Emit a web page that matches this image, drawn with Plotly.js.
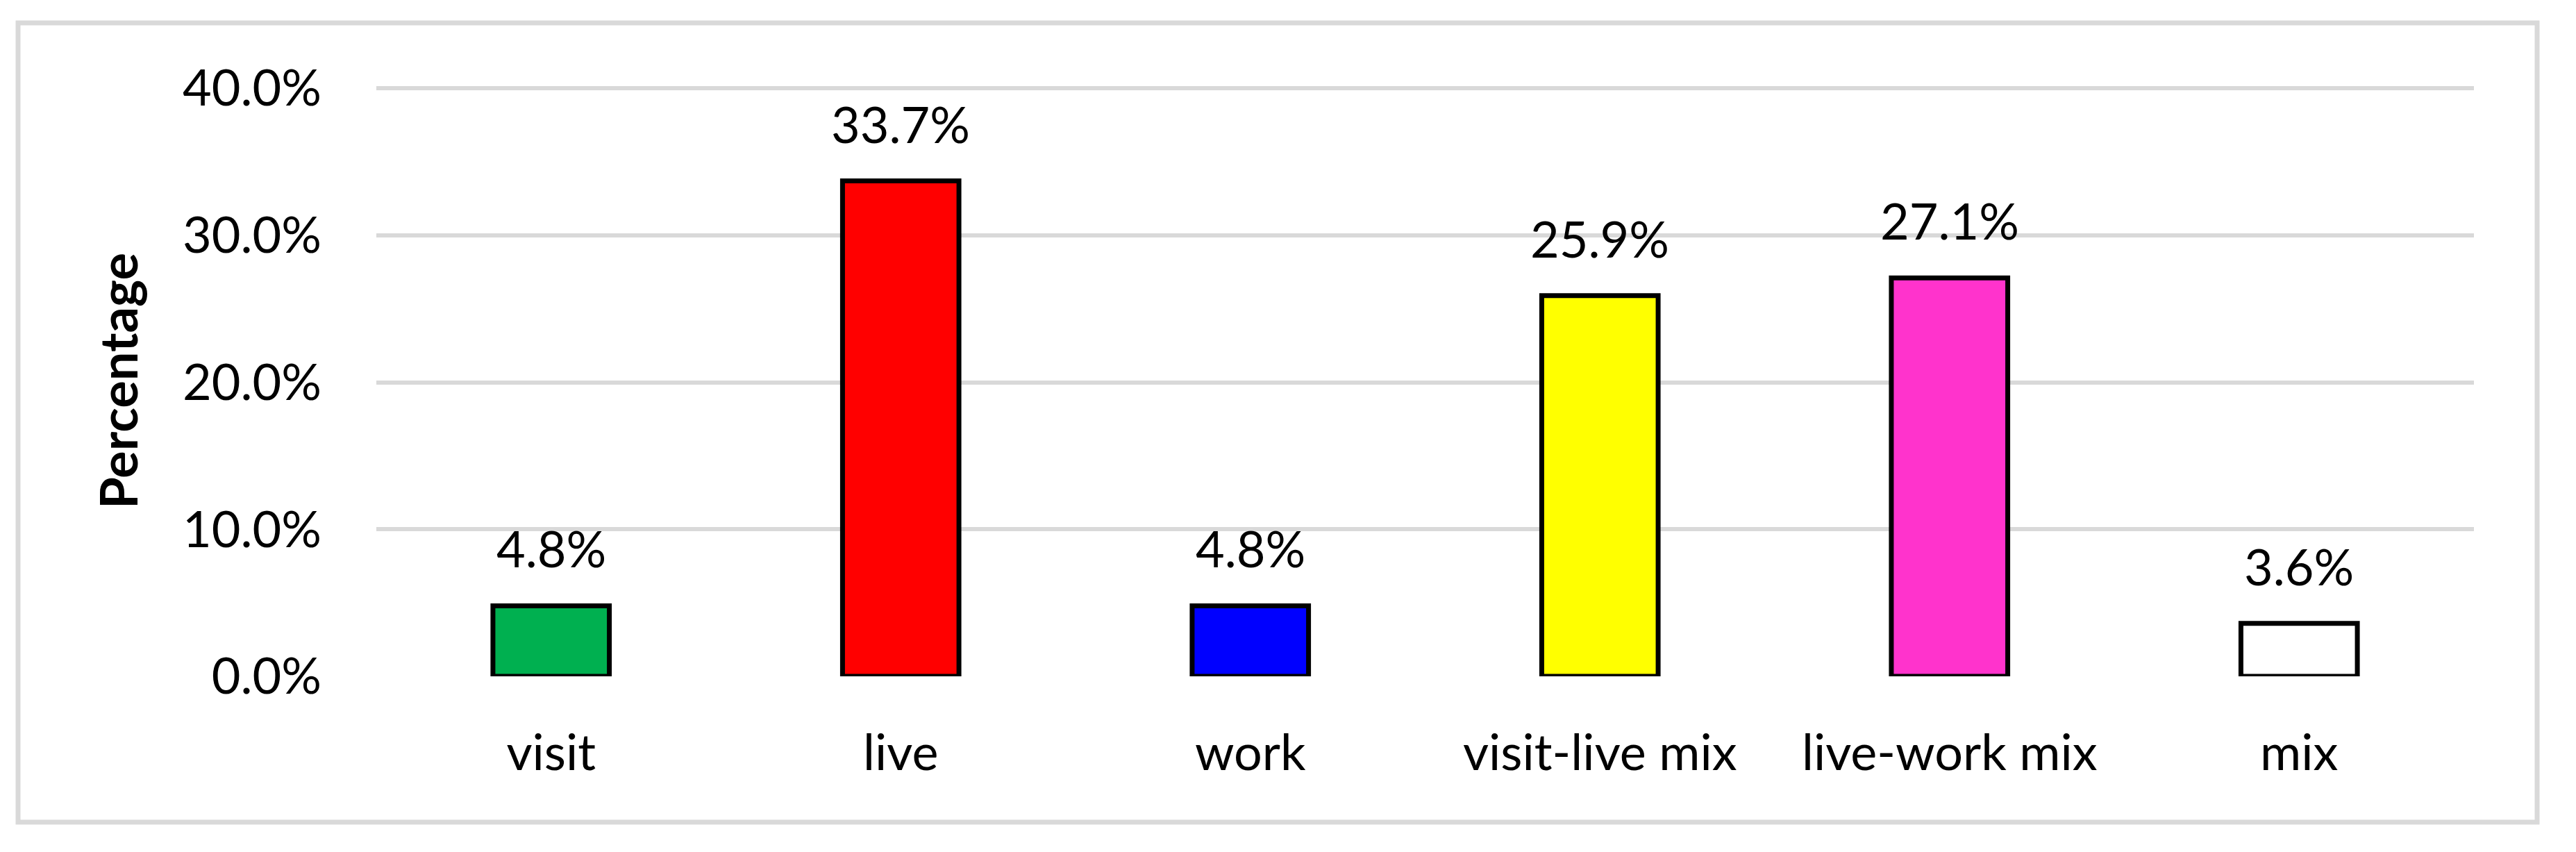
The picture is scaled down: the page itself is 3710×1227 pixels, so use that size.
<!DOCTYPE html>
<html>
<head>
<meta charset="utf-8">
<script src="https://cdn.plot.ly/plotly-3.0.1.min.js"></script>
<style>
  body { margin: 0; background: #fff; }
  #plot { width: 3710px; height: 1227px; }
</style>
</head>
<body>
<div id="plot"></div>
<script>
// categories and shares
const categories = ['visit', 'live', 'work', 'visit-live mix', 'live-work mix', 'mix'];
const shares = [0.048, 0.337, 0.048, 0.259, 0.271, 0.036];
const barColors = ['#00B050', '#FF0000', '#0000FF', '#FFFF00', '#FF33CC', '#FFFFFF'];
const yTicks = [0, 0.1, 0.2, 0.3, 0.4];

const W = 3710, H = 1227;
// a little headroom above 40% so its gridline gets drawn
const margin = { l: 542, r: 147, t: 123, b: 253 };
const plotW = W - margin.l - margin.r;
const plotH = H - margin.t - margin.b;

// pixel -> paper helpers for the outer frame
function px2x(p) { return (p - margin.l) / plotW; }
function py2y(p) { return (H - margin.b - p) / plotH; }

const trace = {
    type: 'bar',
    x: categories,
    y: shares,
    marker: { color: barColors, line: { color: '#000000', width: 7 } },
    hoverinfo: 'skip'
};

// value labels above bars
const labels = categories.map((c, i) => ({
    x: c, y: shares[i], xref: 'x', yref: 'y',
    text: (shares[i] * 100).toFixed(1) + '%',
    showarrow: false, yanchor: 'bottom', yshift: 38,
    font: { family: 'Lato', size: 72, color: '#000' }
}));

const layout = {
    width: W, height: H,
    margin: margin,
    paper_bgcolor: '#fff', plot_bgcolor: '#fff',
    font: { family: 'Lato', size: 72, color: '#000' },
    showlegend: false,
    bargap: 0.667,
    xaxis: {
        type: 'category',
        showgrid: false, showline: false, zeroline: false,
        ticks: '', ticklabelstandoff: 62,
        tickfont: { family: 'Lato', size: 72, color: '#000' }
    },
    yaxis: {
        range: [0, 0.402],
        tickvals: yTicks,
        tickformat: '.1%',
        showgrid: true, gridcolor: '#d9d9d9', gridwidth: 6,
        zeroline: false, showline: false, ticks: '',
        ticklabelstandoff: 78,
        tickfont: { family: 'Lato', size: 72, color: '#000' },
        title: { text: '<b>Percentage</b>', standoff: 40, font: { family: 'Lato', size: 74, color: '#000' } },
        automargin: false
    },
    annotations: labels,
    shapes: [{
        type: 'rect', xref: 'paper', yref: 'paper',
        x0: px2x(26), x1: px2x(3654), y0: py2y(1184), y1: py2y(33),
        line: { color: '#d9d9d9', width: 7 }, fillcolor: 'rgba(0,0,0,0)',
        layer: 'below'
    }]
};

Plotly.newPlot('plot', [trace], layout, { staticPlot: true, displayModeBar: false });
</script>
</body>
</html>
